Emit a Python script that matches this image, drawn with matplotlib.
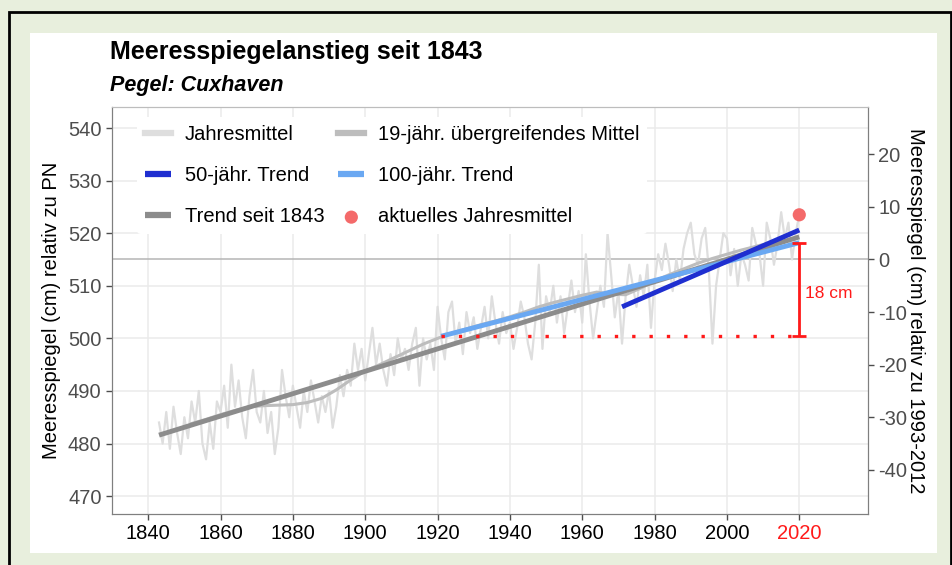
import numpy as np
import matplotlib.pyplot as plt
from matplotlib.patches import Rectangle

plt.rcParams['font.family'] = ['Liberation Sans', 'DejaVu Sans']
plt.rcParams['axes.unicode_minus'] = False

# annual means (cm relative to PN), 1843-2020
years = np.arange(1843, 2021)
annual = [
    484, 480, 486, 479, 487, 482, 478, 485, 481, 488,   # 1843-1852
    484, 490, 480, 477, 484, 479, 488, 486, 491, 483,   # 1853-1862
    495, 487, 492, 485, 481, 489, 494, 486, 484, 490,   # 1863-1872
    482, 486, 478, 483, 494, 489, 485, 491, 487, 483,   # 1873-1882
    490, 486, 492, 488, 484, 489, 486, 490, 483, 487,   # 1883-1892
    493, 489, 494, 491, 499, 494, 498, 492, 497, 502,   # 1893-1902
    495, 499, 494, 491, 497, 493, 500, 496, 498, 494,   # 1903-1912
    499, 502, 491, 500, 496, 499, 494, 506, 500, 496,   # 1913-1922
    505, 507, 499, 503, 497, 505, 501, 504, 498, 502,   # 1923-1932
    506, 500, 508, 503, 499, 505, 501, 503, 498, 502,   # 1933-1942
    507, 504, 499, 496, 503, 514, 498, 508, 505, 510,   # 1943-1952
    503, 508, 501, 506, 511, 505, 509, 503, 516, 507,   # 1953-1962
    500, 505, 510, 506, 520, 512, 504, 509, 499, 508,   # 1963-1972
    514, 510, 506, 512, 508, 514, 502, 511, 516, 513,   # 1973-1982
    518, 514, 509, 515, 511, 517, 520, 522, 516, 514,   # 1983-1992
    519, 521, 513, 499, 510, 515, 520, 519, 512, 517,   # 1993-2002
    510, 516, 514, 511, 521, 518, 516, 510, 522, 519,   # 2003-2012
    514, 518, 524, 519, 522, 515, 520, 523.5,           # 2013-2020
]

# 19-year running mean
ma_years = [1852, 1856, 1860, 1864, 1868, 1872, 1876, 1880, 1884, 1888,
            1892, 1896, 1900, 1904, 1908, 1912, 1916, 1920, 1924, 1928,
            1932, 1936, 1940, 1944, 1948, 1952, 1956, 1960, 1964, 1968,
            1972, 1976, 1980, 1984, 1988, 1992, 1996, 2000, 2004, 2008, 2011]
ma_vals = [483.8, 484.6, 485.5, 486.3, 487.0, 487.2, 487.3, 487.4, 487.8, 488.6,
           490.2, 492.1, 493.8, 495.0, 496.3, 497.6, 498.9, 500.0, 501.0, 501.8,
           502.6, 503.3, 504.1, 505.0, 506.0, 506.8, 507.5, 508.2, 508.8, 508.4,
           508.3, 509.5, 510.9, 512.1, 513.2, 514.3, 515.2, 516.0, 516.8, 517.5, 518.0]

# trend lines (start/end)
trend_all_x = [1843, 2020]
trend_all_y = [481.6, 519.3]
trend100_x = [1921, 2020]
trend100_y = [500.4, 518.2]
trend50_x = [1971, 2020]
trend50_y = [506.0, 520.6]

current_year = 2020
current_val = 523.5
rise_cm = 18

ref_level = 515  # 0 on right axis (mean 1993-2012)

xticks = [1840, 1860, 1880, 1900, 1920, 1940, 1960, 1980, 2000, 2020]
yticks_left = [470, 480, 490, 500, 510, 520, 530, 540]
yticks_right = [-40, -30, -20, -10, 0, 10, 20]

red = '#ff1a1a'
tick_grey = '#4d4d4d'

fig = plt.figure(figsize=(9.53, 5.65), dpi=100)
fig.patch.set_facecolor('#e8efdd')
# white panel and black frame
fig.add_artist(Rectangle((30 / 953, 12 / 565), 907 / 953, 520 / 565,
                         transform=fig.transFigure, facecolor='white',
                         edgecolor='none', zorder=-2))
fig.add_artist(Rectangle((9 / 953, -0.01), 942 / 953, 1 - 12 / 565 + 0.01,
                         transform=fig.transFigure, facecolor='none',
                         edgecolor='black', lw=2, zorder=5))

ax = fig.add_axes([112 / 953, 1 - 514 / 565, 756 / 953, 407 / 565])
ax.set_facecolor('white')
ax.set_xlim(1830, 2039)
ax.set_ylim(466.6, 544)

ax.grid(True, color='#ebebeb', lw=1.1)
ax.set_axisbelow(True)
ax.axhline(ref_level, color='#b5b5b5', lw=1.1, zorder=1)

ax.plot(years, annual, color='#dedede', lw=1.6, zorder=2, label='Jahresmittel')
ax.plot(ma_years, ma_vals, color='#bdbdbd', lw=2.2, zorder=3,
        label='19-jähr. übergreifendes Mittel')
ax.plot(trend_all_x, trend_all_y, color='#8c8c8c', lw=3.5, zorder=4,
        solid_capstyle='butt', label='Trend seit 1843')
ax.plot(trend100_x, trend100_y, color='#6aa8f2', lw=3.5, zorder=5,
        solid_capstyle='butt', label='100-jähr. Trend')
ax.plot(trend50_x, trend50_y, color='#1f2fd0', lw=3.5, zorder=6,
        solid_capstyle='butt', label='50-jähr. Trend')
ax.scatter([current_year], [current_val], s=90, color='#f46a6a', zorder=7,
           edgecolors='none', label='aktuelles Jahresmittel')

# 18 cm marker
ax.plot([trend100_x[0], current_year], [trend100_y[0], trend100_y[0]],
        color=red, lw=2.4, ls=(0, (1, 4.2)), zorder=6)
ax.errorbar([current_year], [(trend100_y[0] + trend100_y[1]) / 2],
            yerr=[(trend100_y[1] - trend100_y[0]) / 2], color=red, lw=2,
            capsize=5, capthick=2, zorder=7)
ax.text(current_year + 1.5, 508.6, f'{rise_cm} cm', color=red, fontsize=12.5,
        va='center', ha='left')

ax.set_xticks(xticks)
ax.set_yticks(yticks_left)
ax.tick_params(axis='both', colors=tick_grey, labelsize=14.5, length=4, width=1)
for lab in ax.get_xticklabels():
    lab.set_color('black')
ax.get_xticklabels()[-1].set_color(red)
ax.set_ylabel('Meeresspiegel (cm) relativ zu PN', fontsize=14.5, labelpad=5)
for s in ax.spines.values():
    s.set_color('#7f7f7f')
ax.spines['top'].set_color('#bdbdbd')

ax2 = ax.twinx()
ax2.set_ylim(ax.get_ylim()[0] - ref_level, ax.get_ylim()[1] - ref_level)
ax2.set_yticks(yticks_right)
ax2.tick_params(axis='y', colors=tick_grey, labelsize=14.5, length=4, width=1)
ax2.set_ylabel('Meeresspiegel (cm) relativ zu 1993-2012', fontsize=14.5,
               rotation=-90, labelpad=13)
for s in ax2.spines.values():
    s.set_color('#7f7f7f')
ax2.spines['top'].set_color('#bdbdbd')

h, l = ax.get_legend_handles_labels()
order = ['Jahresmittel', '50-jähr. Trend', 'Trend seit 1843',
         '19-jähr. übergreifendes Mittel', '100-jähr. Trend', 'aktuelles Jahresmittel']
hd = dict(zip(l, h))
leg = ax.legend([hd[k] for k in order], order, ncol=2, loc='upper left',
                bbox_to_anchor=(0.02, 1.0), frameon=True, fontsize=14.5,
                labelspacing=1.1, handlelength=1.3, handletextpad=0.65,
                columnspacing=0.7, borderpad=0.4)
leg.get_frame().set_facecolor('white')
leg.get_frame().set_edgecolor('none')
leg.get_frame().set_alpha(1)
leg.set_zorder(10)
for lh in leg.legend_handles:
    if hasattr(lh, 'set_linewidth') and not hasattr(lh, 'set_sizes'):
        lh.set_linewidth(4.5)

fig.text(110 / 953, 1 - 52 / 565, 'Meeresspiegelanstieg seit 1843',
         fontsize=18, fontweight='bold', va='center', ha='left')
fig.text(110 / 953, 1 - 86 / 565, 'Pegel: Cuxhaven', fontsize=15.5,
         fontweight='bold', fontstyle='italic', va='center', ha='left')

fig.savefig('out.png', dpi=100, facecolor=fig.get_facecolor())
